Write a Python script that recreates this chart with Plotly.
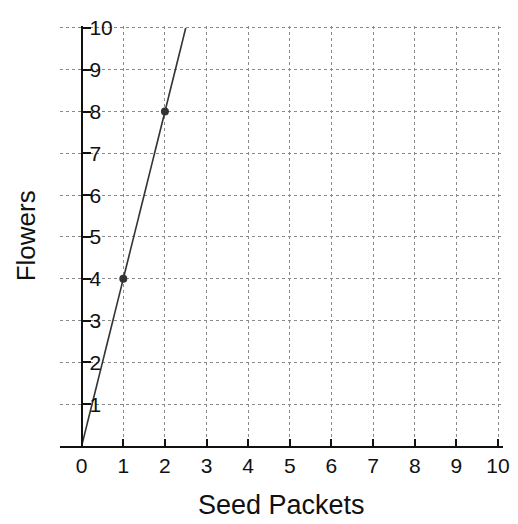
import plotly.graph_objects as go

line_x = [0, 1, 2, 2.5]
line_y = [0, 4, 8, 10]
point_x = [1, 2]
point_y = [4, 8]
x_ticks = list(range(0, 11))
x_labels = [str(v) for v in x_ticks]
y_ticks = list(range(1, 11))
y_labels = [str(v) for v in y_ticks]

xmin, xmax = -0.52, 10.12
ypos = (0 - xmin) / (xmax - xmin)

fig = go.Figure()
fig.add_trace(go.Scatter(x=line_x, y=line_y, mode="lines",
                         line=dict(color="#333333", width=1.6),
                         showlegend=False, hoverinfo="skip"))
fig.add_trace(go.Scatter(x=point_x, y=point_y, mode="markers",
                         marker=dict(color="#333333", size=8),
                         showlegend=False))

fnt = dict(family="Liberation Sans, Arial, sans-serif", color="#111111")
fig.update_layout(
    width=510, height=516,
    margin=dict(l=52, r=8, t=8, b=78),
    paper_bgcolor="white", plot_bgcolor="white",
    font=fnt,
    xaxis=dict(range=[xmin, xmax], tickvals=x_ticks, ticktext=x_labels,
               showgrid=True, gridcolor="#8a8a8a", griddash="dot", gridwidth=1,
               showline=True, linecolor="#111111", linewidth=2,
               ticks="inside", ticklen=7, tickwidth=2, tickcolor="#111111",
               ticklabeloverflow="allow",
               tickfont=dict(size=21, **fnt), zeroline=False),
    yaxis=dict(range=[0, 10.047], tickvals=y_ticks, ticktext=y_labels,
               anchor="free", position=ypos,
               showgrid=True, gridcolor="#8a8a8a", griddash="dot", gridwidth=1,
               showline=True, linecolor="#111111", linewidth=2,
               ticks="inside", ticklen=8, tickwidth=2, tickcolor="#111111",
               ticklabelposition="inside", ticklabeloverflow="allow",
               tickfont=dict(size=21, **fnt), zeroline=False),
    annotations=[
        dict(text="Seed Packets", x=0.5, y=-0.14, xref="paper", yref="paper",
             xanchor="center", yanchor="middle", showarrow=False,
             font=dict(size=27, **fnt)),
        dict(text="Flowers", x=-0.076, y=0.5, xref="paper", yref="paper",
             xanchor="center", yanchor="middle", showarrow=False, textangle=-90,
             font=dict(size=26, **fnt)),
    ],
)
fig.write_html("out.html")
